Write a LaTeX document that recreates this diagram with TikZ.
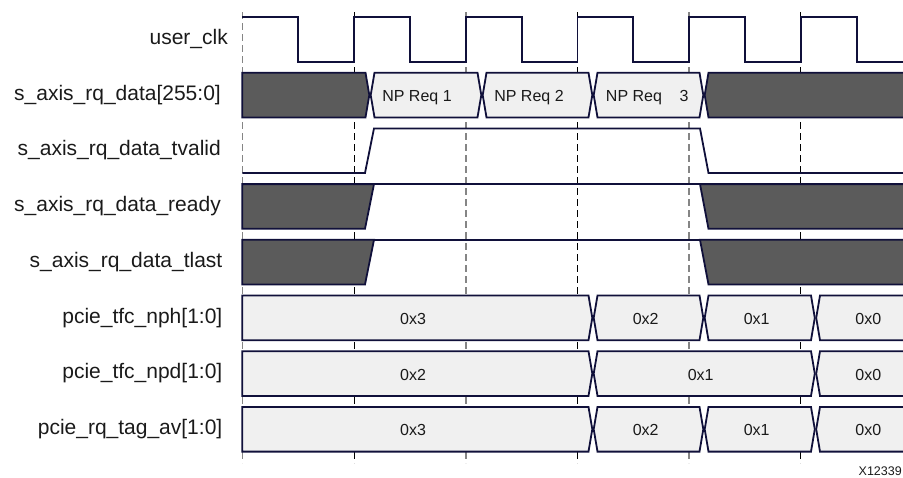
\documentclass[tikz,border=0pt]{standalone}
\usepackage{fontspec}
\setmainfont{Liberation Sans}
\definecolor{wcol}{HTML}{10103A}
\definecolor{dkfill}{HTML}{5B5B5B}
\definecolor{ltfill}{HTML}{F0F0F0}
\definecolor{txt}{HTML}{1A1A1A}
\definecolor{gridgray}{HTML}{858585}
% bus segment with X transitions on both ends: #1 style, #2 x1, #3 x2, #4 top, #5 bottom
\newcommand\segX[5]{\path[#1] (#2+4.5,#4) -- (#3-4.5,#4) -- (#3-0.7,{(#4+#5)/2}) -- (#3-4.5,#5) -- (#2+4.5,#5) -- (#2+0.7,{(#4+#5)/2}) -- cycle;}
% bus segment with square left start
\newcommand\segL[5]{\path[#1] (#2,#4) -- (#3-4.5,#4) -- (#3-0.7,{(#4+#5)/2}) -- (#3-4.5,#5) -- (#2,#5) -- cycle;}
% bus segment running off the right edge
\newcommand\segR[4]{\path[#1] (#2+0.7,{(#3+#4)/2}) -- (#2+4.5,#3) -- (930,#3) -- (930,#4) -- (#2+4.5,#4) -- cycle;}
\begin{document}
\begin{tikzpicture}[x=1pt,y=-1pt,
  wire/.style={draw=wcol,line width=1.8pt,line join=miter},
  dk/.style={wire,fill=dkfill},
  lt/.style={wire,fill=ltfill},
  lbl/.style={font=\fontsize{21}{25}\selectfont,anchor=mid east,inner sep=0pt,text=txt},
  val/.style={font=\fontsize{16}{19}\selectfont,anchor=base,inner sep=0pt,text=txt},
  gridA/.style={draw=gridgray,line width=1.6pt,dash pattern=on 7pt off 4pt},
  gridB/.style={draw=black,line width=0.9pt,dash pattern=on 7pt off 4pt}]
\useasboundingbox (0,0) rectangle (903,477);
\clip (0,0) rectangle (903,477);

% clock-edge grid lines
\foreach \x in {242.3,465.7,689.1} \draw[gridA] (\x,12) -- (\x,463);
\foreach \x in {354,577.4,800.8} \draw[gridB] (\x,12) -- (\x,463);

% labels
\node[lbl] (lclk)  at (228,42)    {user\_clk};
\node[lbl] (ldata) at (221,97.5)  {s\_axis\_rq\_data[255:0]};
\node[lbl] (lval)  at (221,153)   {s\_axis\_rq\_data\_tvalid};
\node[lbl] (lrdy)  at (221,208.5) {s\_axis\_rq\_data\_ready};
\node[lbl] (llast) at (222.5,264.5) {s\_axis\_rq\_data\_tlast};
\node[lbl] (lnph)  at (222.5,320.4) {pcie\_tfc\_nph[1:0]};
\node[lbl] (lnpd)  at (222.5,376.1) {pcie\_tfc\_npd[1:0]};
\node[lbl] (ltag)  at (222.5,431.8) {pcie\_rq\_tag\_av[1:0]};

% user_clk
\draw[wire] (242.3,17) -- (298.2,17) -- (298.2,62) -- (354,62) -- (354,17)
  -- (409.9,17) -- (409.9,62) -- (465.7,62) -- (465.7,17)
  -- (521.6,17) -- (521.6,62) -- (577.4,62) -- (577.4,17)
  -- (633.3,17) -- (633.3,62) -- (689.1,62) -- (689.1,17)
  -- (745,17) -- (745,62) -- (800.8,62) -- (800.8,17)
  -- (856.6,17) -- (856.6,62) -- (930,62);

% s_axis_rq_data
\segL{dk}{242.3}{370}{72.7}{117.4}
\segX{lt}{370}{482}{72.7}{117.4}
\segX{lt}{482}{593}{72.7}{117.4}
\segX{lt}{593}{704}{72.7}{117.4}
\segR{dk}{704}{72.7}{117.4}
\node[val] (d1) at (417,101.7) {NP Req 1};
\node[val] (d2) at (529,101.7) {NP Req 2};
\node[val] (d3) at (634,101.7) {NP Req};
\node[val] (d3n) at (684,101.7) {3};

% tvalid
\draw[wire] (242.3,173) -- (365,173) -- (374,128.4) -- (700,128.4) -- (708.5,173) -- (930,173);

% ready
\path[dk] (242.3,184.1) -- (374,184.1) -- (365,228.8) -- (242.3,228.8) -- cycle;
\draw[wire] (374,184.1) -- (700,184.1);
\path[dk] (700,184.1) -- (930,184.1) -- (930,228.8) -- (708.5,228.8) -- cycle;

% tlast
\path[dk] (242.3,239.8) -- (374,239.8) -- (365,284.5) -- (242.3,284.5) -- cycle;
\draw[wire] (374,239.8) -- (700,239.8);
\path[dk] (700,239.8) -- (930,239.8) -- (930,284.5) -- (708.5,284.5) -- cycle;

% pcie_tfc_nph
\segL{lt}{242.3}{593}{295.5}{340.2}
\segX{lt}{593}{704}{295.5}{340.2}
\segX{lt}{704}{815.5}{295.5}{340.2}
\segR{lt}{815.5}{295.5}{340.2}
\node[val] (h3) at (413,324.4) {0x3};
\node[val] (h2) at (645.7,324.4) {0x2};
\node[val] (h1) at (756.7,324.4) {0x1};
\node[val] (h0) at (868.3,324.4) {0x0};

% pcie_tfc_npd
\segL{lt}{242.3}{593}{351.2}{395.9}
\segX{lt}{593}{815.5}{351.2}{395.9}
\segR{lt}{815.5}{351.2}{395.9}
\node[val] (p2) at (413,380.1) {0x2};
\node[val] (p1) at (700.7,380.1) {0x1};
\node[val] (p0) at (868.3,380.1) {0x0};

% pcie_rq_tag_av
\segL{lt}{242.3}{593}{406.9}{451.6}
\segX{lt}{593}{704}{406.9}{451.6}
\segX{lt}{704}{815.5}{406.9}{451.6}
\segR{lt}{815.5}{406.9}{451.6}
\node[val] (t3) at (413,435.8) {0x3};
\node[val] (t2) at (645.7,435.8) {0x2};
\node[val] (t1) at (756.7,435.8) {0x1};
\node[val] (t0) at (868.3,435.8) {0x0};

% figure id
\node[font=\fontsize{12.5}{15}\selectfont,anchor=base east,inner sep=0pt,text=txt] (fid) at (902,475) {X12339};
\end{tikzpicture}
\end{document}
